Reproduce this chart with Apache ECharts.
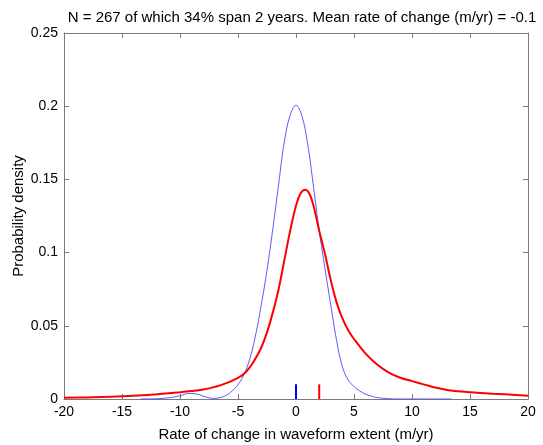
<!DOCTYPE html>
<html>
<head>
<meta charset="utf-8">
<script src="https://cdn.jsdelivr.net/npm/echarts@6/dist/echarts.min.js"></script>
<style>
  html, body { margin: 0; padding: 0; background: #fff; }
  #chart { width: 543px; height: 445px; }
</style>
</head>
<body>
<div id="chart"></div>
<script>
// Kernel density of observed rates (red) and the error-only reference density (blue)
var redX = [-20, -18, -16, -14, -12, -10, -9, -8, -7, -6, -5, -4.5, -4, -3.5, -3, -2.5, -2, -1.5, -1, -0.5, 0, 0.4, 0.8, 1.2, 1.6, 2, 2.5, 3, 3.5, 4, 4.5, 5, 6, 7, 8, 9, 10, 11, 12, 13, 14, 15, 17, 20];
var redY = [0.0008, 0.0011, 0.0015, 0.0022, 0.0033, 0.0046, 0.0054, 0.0065, 0.0083, 0.0108, 0.0145, 0.0170, 0.0215, 0.0275, 0.0350, 0.0455, 0.0590, 0.0750, 0.0950, 0.1150, 0.1320, 0.1405, 0.1430, 0.1395, 0.1290, 0.1150, 0.0990, 0.0810, 0.0660, 0.0550, 0.0470, 0.0410, 0.0310, 0.0235, 0.0180, 0.0145, 0.0122, 0.0100, 0.0078, 0.0062, 0.0053, 0.0046, 0.0036, 0.0023];

var blueX = [-13.4, -12, -11, -10, -9.2, -8.5, -7.8, -7.1, -6.5, -6, -5.5, -5, -4.5, -4, -3.5, -3, -2.5, -2, -1.5, -1, -0.5, 0, 0.5, 1, 1.5, 2, 2.5, 3, 3.5, 4, 4.5, 5, 5.5, 6, 6.5, 7, 8, 9, 13.4];
var blueY = [0.0000, 0.0002, 0.0008, 0.0022, 0.0038, 0.0033, 0.0015, 0.0004, 0.0010, 0.0026, 0.0055, 0.0098, 0.0165, 0.0270, 0.0430, 0.0640, 0.0880, 0.1160, 0.1465, 0.1760, 0.1940, 0.2005, 0.1935, 0.1745, 0.1455, 0.1150, 0.0890, 0.0640, 0.0400, 0.0220, 0.0130, 0.0085, 0.0055, 0.0033, 0.0020, 0.0010, 0.0002, 0.0000, 0.0000];

// Short vertical markers at the bottom: blue at the reference centre, red at the observed median
var markX = { blue: 0, red: 2 };
var markHeight = 0.01;

var xTicks = { min: -20, max: 20, step: 5 };
var yTicks = { min: 0, max: 0.25, step: 0.05 };

var titleText = 'N = 267 of which 34% span 2 years. Mean rate of change (m/yr) = -0.1';
var xName = 'Rate of change in waveform extent (m/yr)';
var yName = 'Probability density';

function pairs(xs, ys) {
  return xs.map(function (x, i) { return [x, ys[i]]; });
}

var fontFam = '"Liberation Sans", Arial, Helvetica, sans-serif';
var axisGray = '#7a7a7a';

function valueAxis(t, extra) {
  var base = {
    type: 'value',
    min: t.min,
    max: t.max,
    interval: t.step,
    axisLine: { show: true, onZero: false, lineStyle: { color: axisGray, width: 1 } },
    axisTick: { show: true, inside: true, length: 5, lineStyle: { color: axisGray } },
    splitLine: { show: false },
    axisLabel: { show: false }
  };
  for (var k in extra) base[k] = extra[k];
  return base;
}

var chart = echarts.init(document.getElementById('chart'), null, { renderer: 'canvas' });

chart.setOption({
  animation: false,
  backgroundColor: '#ffffff',
  title: {
    text: titleText,
    left: 297,
    textAlign: 'center',
    top: 5,
    textStyle: { fontFamily: fontFam, fontSize: 15, fontWeight: 'normal', color: '#000' }
  },
  grid: { left: 64, right: 15, top: 33, bottom: 46, containLabel: false, outerBoundsMode: 'none' },
  xAxis: [
    valueAxis(xTicks, {
      position: 'bottom',
      name: xName,
      nameLocation: 'middle',
      nameGap: 28,
      nameTextStyle: { fontFamily: fontFam, fontSize: 15, color: '#000' },
      axisLabel: { show: true, margin: 6, fontFamily: fontFam, fontSize: 14, color: '#000' }
    }),
    valueAxis(xTicks, { position: 'top' })
  ],
  yAxis: [
    valueAxis(yTicks, {
      position: 'left',
      name: yName,
      nameLocation: 'middle',
      nameGap: 38,
      nameMoveOverlap: false,
      nameTextStyle: { fontFamily: fontFam, fontSize: 15, color: '#000' },
      axisLabel: { show: true, margin: 6, fontFamily: fontFam, fontSize: 14, color: '#000' }
    }),
    valueAxis(yTicks, { position: 'right' })
  ],
  series: [
    {
      type: 'line',
      data: pairs(blueX, blueY),
      smooth: 0.4,
      symbol: 'none',
      lineStyle: { color: '#3030ff', width: 0.8 },
      z: 2
    },
    {
      type: 'line',
      data: pairs(redX, redY),
      smooth: 0.4,
      symbol: 'none',
      lineStyle: { color: '#ff0000', width: 2 },
      z: 3
    },
    {
      type: 'line',
      data: [[markX.blue, 0], [markX.blue, markHeight]],
      symbol: 'none',
      lineStyle: { color: '#0000ff', width: 2 },
      z: 4
    },
    {
      type: 'line',
      data: [[markX.red, 0], [markX.red, markHeight]],
      symbol: 'none',
      lineStyle: { color: '#ff0000', width: 2 },
      z: 4
    }
  ]
});
</script>
</body>
</html>
